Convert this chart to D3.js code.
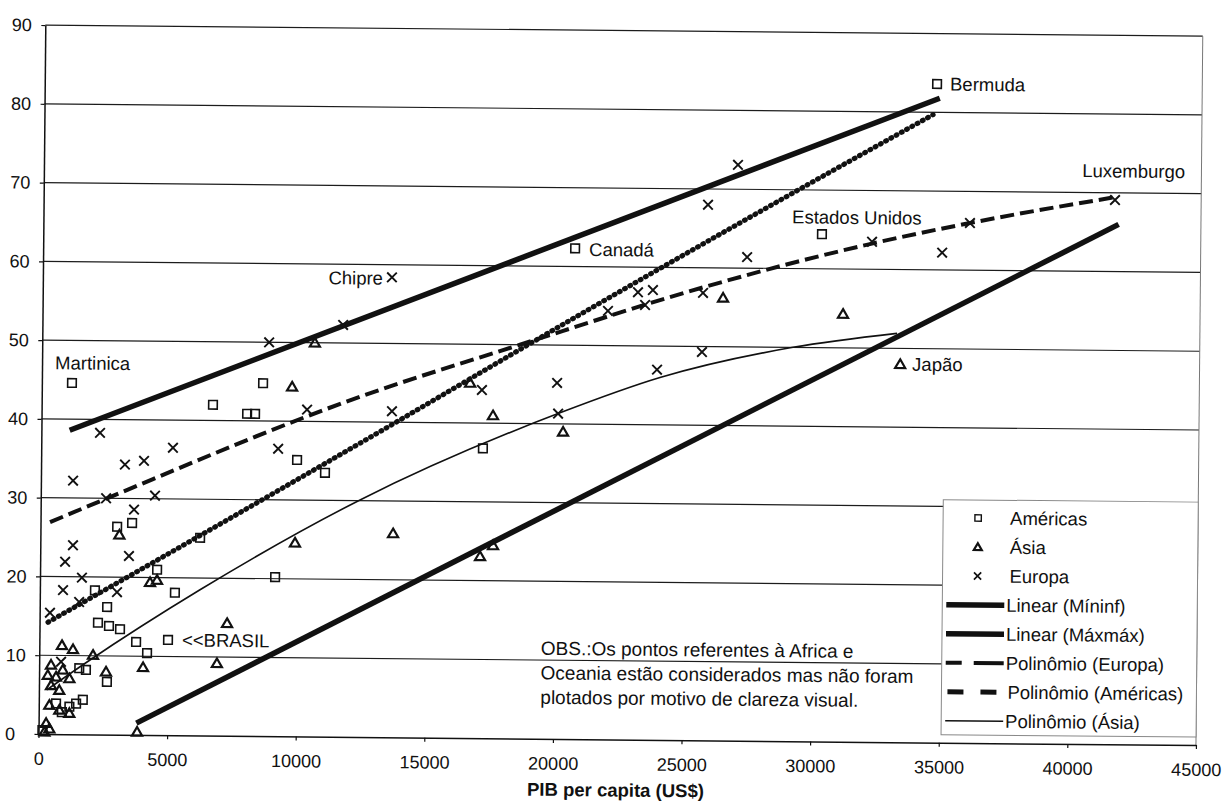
<!DOCTYPE html>
<html>
<head>
<meta charset="utf-8">
<script src="https://cdn.jsdelivr.net/npm/d3@7"></script>
<style>
  body { margin: 0; background: #fff; }
  svg { display: block; }
  text { font-family: "Liberation Sans", Arial, Helvetica, sans-serif; fill: #111; }
</style>
</head>
<body>
<svg id="chart" width="1225" height="812"></svg>
<script>
// ---------------- data ----------------
const xTicks = [0, 5000, 10000, 15000, 20000, 25000, 30000, 35000, 40000, 45000];
const yTicks = [0, 10, 20, 30, 40, 50, 60, 70, 80, 90];

// Américas (squares)
const americasX = [1170, 8600, 6660, 7990, 8300, 9950, 11040, 3560, 2980, 6210, 4550, 9140, 17170, 2140, 2620, 5250, 2270, 2700, 3130, 3760, 4190, 5000, 2640, 1820, 1560, 1710, 1450, 1190, 670, 900, 150, 20680, 30270, 34690];
const americasY = [44.6, 44.8, 42.0, 40.9, 40.9, 35.1, 33.5, 26.9, 26.4, 25.1, 21.0, 20.2, 36.8, 18.3, 16.2, 18.1, 14.2, 13.8, 13.4, 11.8, 10.4, 12.1, 6.7, 8.2, 8.4, 4.4, 3.9, 3.5, 3.9, 2.8, 0.5, 62.3, 64.4, 83.6];

// Ásia (triangles)
const asiaX = [10600, 9730, 16650, 17550, 20280, 9900, 13710, 17100, 17600, 7290, 6910, 26450, 31120, 33360, 3830, 4280, 4550, 4040, 2600, 2090, 1310, 880, 3070, 460, 920, 340, 1180, 660, 470, 790, 410, 800, 1190, 290, 420, 230];
const asiaY = [50.0, 44.4, 45.1, 41.0, 39.0, 24.6, 25.9, 23.1, 24.5, 14.3, 9.2, 56.2, 54.3, 48.0, 0.4, 19.4, 19.7, 8.6, 8.0, 10.1, 10.8, 11.3, 25.4, 8.8, 8.2, 7.5, 7.1, 7.3, 6.2, 5.6, 3.7, 3.1, 2.7, 1.4, 0.7, 0.3];

// Europa (crosses)
const europaX = [8820, 2280, 5120, 3260, 4000, 1250, 9210, 10320, 4440, 2540, 3630, 1270, 970, 3450, 1630, 900, 3000, 1530, 400, 11690, 13620, 17110, 20030, 20080, 26980, 25830, 27370, 32220, 34950, 23140, 23720, 21980, 23420, 25670, 25650, 23910, 36020, 41650, 13570, 850];
const europaY = [50.0, 38.3, 36.5, 34.3, 34.8, 32.2, 36.5, 41.5, 30.4, 30.0, 28.6, 24.0, 21.9, 22.7, 19.9, 18.3, 18.1, 16.8, 15.4, 52.3, 41.4, 44.2, 45.2, 41.3, 73.1, 68.0, 61.4, 63.5, 62.2, 56.8, 57.1, 54.4, 55.2, 56.8, 49.3, 47.0, 66.0, 69.1, 58.4, 9.2];

// Trend lines
const maxmaxX = [1100, 34800];
const maxmaxY = [38.6, 81.8];
const mininfX = [3800, 41800];
const mininfY = [1.5, 66.0];
const polyEuropaX = [370, 2575, 12373, 18574, 25667, 32260, 36024, 41728];
const polyEuropaY = [26.9, 30.0, 43.2, 50.0, 57.5, 63.3, 66.0, 69.5];
const polyAmericasX = [330, 4542, 12390, 21669, 29131, 34544];
const polyAmericasY = [14.2, 22.2, 37.3, 55.4, 69.6, 79.7];
const polyAsiaX = [300, 1860, 6225, 12412, 20155, 24027, 29188, 33226];
const polyAsiaY = [5.6, 9.2, 18.5, 30.1, 41.4, 46.0, 50.0, 51.9];

// Point annotations
const labelTexts = ["Bermuda", "Canadá", "Estados Unidos", "Martinica", "<<BRASIL", "Luxemburgo", "Chipre", "Japão"];
const labelSeries = ["americas", "americas", "americas", "americas", "americas", "europa", "europa", "asia"];
const labelIndex = [33, 31, 32, 0, 21, 37, 38, 13];

const legendLabels = ["Américas", "Ásia", "Europa", "Linear (Míninf)", "Linear (Máxmáx)", "Polinômio (Europa)", "Polinômio (Américas)", "Polinômio (Ásia)"];
const obsLines = ["OBS.:Os pontos referentes à Africa e", "Oceania estão considerados mas não foram", "plotados por motivo de clareza visual."];
const xTitle = "PIB per capita (US$)";

// ---------------- layout ----------------
const ink = "#111";
const labelLayout = [
  {dx: 13, dy: 0, anchor: "start"},
  {dx: 14, dy: 1, anchor: "start"},
  {dx: -30, dy: -17, anchor: "start"},
  {dx: -17, dy: -20, anchor: "start"},
  {dx: 14, dy: 0, anchor: "start"},
  {dx: -33, dy: -29, anchor: "start"},
  {dx: -9, dy: 1, anchor: "end"},
  {dx: 12, dy: 0, anchor: "start"}
];

const svg = d3.select("#chart");
svg.append("rect").attr("width", 1225).attr("height", 812).attr("fill", "#fff");
// slight scan tilt of the original page
const g = svg.append("g").attr("transform", "rotate(0.55,38.5,734)");

const x = d3.scaleLinear().domain([0, 45000]).range([38.5, 1196]);
const y = d3.scaleLinear().domain([0, 90]).range([734, 25]);

// gridlines
g.append("g").selectAll("line").data(yTicks.filter(v => v > 0)).join("line")
  .attr("x1", x(0)).attr("x2", x(45000))
  .attr("y1", d => y(d)).attr("y2", d => y(d))
  .attr("stroke", "#1c1c1c").attr("stroke-width", 1.2);

// right border
g.append("line").attr("x1", x(45000)).attr("x2", x(45000)).attr("y1", y(0)).attr("y2", y(90))
  .attr("stroke", "#777").attr("stroke-width", 1);

// axes
const xAxisG = g.append("g").attr("transform", `translate(0,${y(0)})`)
  .call(d3.axisBottom(x).tickValues(xTicks).tickSize(4).tickSizeOuter(0).tickPadding(14).tickFormat(d3.format("d")));
const yAxisG = g.append("g").attr("transform", `translate(${x(0)},0)`)
  .call(d3.axisLeft(y).tickValues(yTicks).tickSize(4).tickSizeOuter(0).tickFormat(d3.format("d")));
[xAxisG, yAxisG].forEach(a => {
  a.attr("font-family", null).attr("font-size", null);
  a.select(".domain").attr("stroke", ink).attr("stroke-width", 1.5);
  a.selectAll(".tick line").attr("stroke", ink).attr("stroke-width", 1.2);
  a.selectAll(".tick text").style("font-size", "18px").attr("fill", ink);
});
yAxisG.selectAll(".tick text").attr("x", 5 - x(0)).attr("text-anchor", "start");

// trend lines
const zip = (xs, ys) => xs.map((v, i) => [v, ys[i]]);
const straight = d3.line().x(d => x(d[0])).y(d => y(d[1]));
const smooth = d3.line().x(d => x(d[0])).y(d => y(d[1])).curve(d3.curveMonotoneX);

g.append("path").attr("d", straight(zip(maxmaxX, maxmaxY)))
  .attr("fill", "none").attr("stroke", ink).attr("stroke-width", 5.5);
g.append("path").attr("d", straight(zip(mininfX, mininfY)))
  .attr("fill", "none").attr("stroke", ink).attr("stroke-width", 5.5);
g.append("path").attr("d", smooth(zip(polyAsiaX, polyAsiaY)))
  .attr("fill", "none").attr("stroke", ink).attr("stroke-width", 1.6);
g.append("path").attr("d", smooth(zip(polyAmericasX, polyAmericasY)))
  .attr("fill", "none").attr("stroke", "#111").attr("stroke-width", 5.2)
  .attr("stroke-dasharray", "0.7 5.3").attr("stroke-linecap", "round");
g.append("path").attr("d", smooth(zip(polyEuropaX, polyEuropaY)))
  .attr("fill", "none").attr("stroke", ink).attr("stroke-width", 4)
  .attr("stroke-dasharray", "14 6");

// markers
const squarePath = s => `M${-s},${-s}H${s}V${s}H${-s}Z`;
const trianglePath = s => `M0,${-s}L${s * 1.05},${s * 0.8}L${-s * 1.05},${s * 0.8}Z`;
const crossPath = s => `M${-s},${-s}L${s},${s}M${-s},${s}L${s},${-s}`;

g.append("g").selectAll("path").data(zip(americasX, americasY)).join("path")
  .attr("transform", d => `translate(${x(d[0])},${y(d[1])})`)
  .attr("d", squarePath(4.3)).attr("fill", "none").attr("stroke", ink).attr("stroke-width", 1.6);
g.append("g").selectAll("path").data(zip(asiaX, asiaY)).join("path")
  .attr("transform", d => `translate(${x(d[0])},${y(d[1])})`)
  .attr("d", trianglePath(4.8)).attr("fill", "none").attr("stroke", ink).attr("stroke-width", 2.2)
  .attr("stroke-linejoin", "miter");
g.append("g").selectAll("path").data(zip(europaX, europaY)).join("path")
  .attr("transform", d => `translate(${x(d[0])},${y(d[1])})`)
  .attr("d", crossPath(4.8)).attr("fill", "none").attr("stroke", ink).attr("stroke-width", 1.9);

// annotations
const seriesX = {americas: americasX, asia: asiaX, europa: europaX};
const seriesY = {americas: americasY, asia: asiaY, europa: europaY};
g.append("g").selectAll("text").data(labelTexts).join("text")
  .attr("x", (d, i) => x(seriesX[labelSeries[i]][labelIndex[i]]) + labelLayout[i].dx)
  .attr("y", (d, i) => y(seriesY[labelSeries[i]][labelIndex[i]]) + labelLayout[i].dy)
  .attr("dy", "0.35em")
  .attr("text-anchor", (d, i) => labelLayout[i].anchor)
  .style("font-size", "18.5px")
  .text(d => d);

// OBS note
g.append("g").selectAll("text").data(obsLines).join("text")
  .attr("x", 540).attr("y", (d, i) => 650 + i * 24.5)
  .style("font-size", "19px").text(d => d);

// x title
g.append("text").attr("x", 616).attr("y", 791).attr("text-anchor", "middle")
  .style("font-size", "18.5px").style("font-weight", "bold").text(xTitle);

// legend
const lg = g.append("g").attr("transform", "translate(941,491)");
lg.append("rect").attr("width", 255).attr("height", 235).attr("fill", "#fff")
  .attr("stroke", "#888").attr("stroke-width", 1);
const rowY = i => 18 + i * 29;
legendLabels.forEach((lab, i) => {
  const row = lg.append("g").attr("transform", `translate(0,${rowY(i)})`);
  let tx = 64;
  if (i === 0) { row.append("path").attr("transform", "translate(35,0)").attr("d", squarePath(3.2)).attr("fill", "none").attr("stroke", ink).attr("stroke-width", 1.4); tx = 67; }
  if (i === 1) { row.append("path").attr("transform", "translate(35,0)").attr("d", trianglePath(3.8)).attr("fill", "none").attr("stroke", ink).attr("stroke-width", 2.2); tx = 67; }
  if (i === 2) { row.append("path").attr("transform", "translate(35,0)").attr("d", crossPath(3.6)).attr("fill", "none").attr("stroke", ink).attr("stroke-width", 1.7); tx = 67; }
  if (i === 3 || i === 4) { row.append("line").attr("x1", 4).attr("x2", 62).attr("stroke", ink).attr("stroke-width", 5.5); }
  if (i === 5) { row.append("line").attr("x1", 4).attr("x2", 62).attr("stroke", ink).attr("stroke-width", 4).attr("stroke-dasharray", "16 12 40"); }
  if (i === 6) { row.append("line").attr("x1", 6).attr("x2", 60).attr("stroke", ink).attr("stroke-width", 5).attr("stroke-dasharray", "16 17"); tx = 66; }
  if (i === 7) { row.append("line").attr("x1", 4).attr("x2", 62).attr("stroke", ink).attr("stroke-width", 1.6); }
  row.append("text").attr("x", tx).attr("dy", "0.35em").style("font-size", "18.5px").text(lab);
});
</script>
</body>
</html>
